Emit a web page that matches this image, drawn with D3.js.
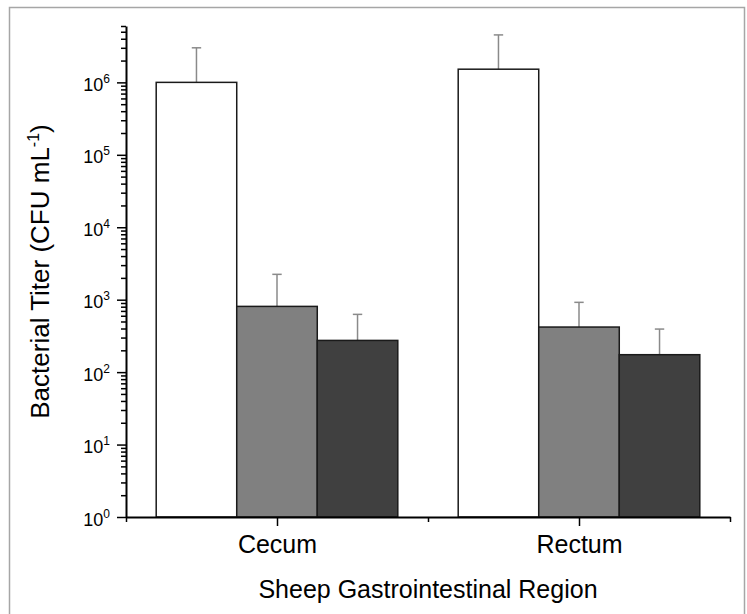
<!DOCTYPE html>
<html>
<head>
<meta charset="utf-8">
<script src="https://cdn.jsdelivr.net/npm/d3@7"></script>
<style>
  body { margin: 0; background: #fff; }
  svg { display: block; font-family: "Liberation Sans", Arial, sans-serif; }
</style>
</head>
<body>
<svg id="chart"></svg>
<script>
// Data
const regions = ["Cecum", "Rectum"];
const regionPos = [1, 2];
const whiteMeans = [1.0e6, 1.52e6];
const whiteErrs = [2.0e6, 3.0e6];
const grayMeans = [808, 419];
const grayErrs = [1430, 500];
const darkMeans = [274, 174];
const darkErrs = [353, 219];
const majorTicks = [1, 10, 100, 1000, 1e4, 1e5, 1e6];
const exponents = [0, 1, 2, 3, 4, 5, 6];

const W = 747, H = 614;
const svg = d3.select("#chart").attr("width", W).attr("height", H);

// outer frame
svg.append("rect")
    .attr("x", 9.5).attr("y", 7.5)
    .attr("width", 735).attr("height", 620)
    .attr("fill", "none")
    .attr("stroke", "#a6a6a6")
    .attr("stroke-width", 1.5);

// Scales
const x = d3.scaleLinear().domain([0.5, 2.5]).range([126, 730]);
const y = d3.scaleLog().domain([1, 6e6]).range([517, 26]);

const barW = 0.8 / 3;
const series = [
    { means: whiteMeans, errs: whiteErrs, fill: "#ffffff", offset: -barW },
    { means: grayMeans, errs: grayErrs, fill: "#808080", offset: 0 },
    { means: darkMeans, errs: darkErrs, fill: "#404040", offset: barW }
];

// Bars and error bars
series.forEach(s => {
    const g = svg.append("g");
    regionPos.forEach((p, i) => {
        const cx = p + s.offset;
        const x0 = x(cx - barW / 2), x1 = x(cx + barW / 2);
        const top = y(s.means[i] + s.errs[i]);

        // error bar (upper only)
        g.append("line")
            .attr("x1", x(cx)).attr("x2", x(cx))
            .attr("y1", y(s.means[i])).attr("y2", top)
            .attr("stroke", "#8a8a8a").attr("stroke-width", 1.5);
        g.append("line")
            .attr("x1", x(cx) - 4.7).attr("x2", x(cx) + 4.7)
            .attr("y1", top).attr("y2", top)
            .attr("stroke", "#8a8a8a").attr("stroke-width", 1.5);

        g.append("rect")
            .attr("x", x0)
            .attr("y", y(s.means[i]))
            .attr("width", x1 - x0)
            .attr("height", y(1) - y(s.means[i]))
            .attr("fill", s.fill)
            .attr("stroke", "#1a1a1a")
            .attr("stroke-width", 1.5);
    });
});

// Y axis: minor ticks
const minorTicks = [];
for (let e = 0; e <= 6; e++) {
    for (let m = 2; m <= 9; m++) {
        const v = m * Math.pow(10, e);
        if (v <= 6e6) minorTicks.push(v);
    }
}
svg.append("g")
    .attr("transform", "translate(126,0)")
    .call(d3.axisLeft(y).tickValues(minorTicks).tickSize(5).tickFormat(""))
    .call(g => g.select(".domain").remove())
    .call(g => g.selectAll(".tick line").attr("stroke", "#000").attr("stroke-width", 1.5));

// Y axis: major ticks with 10^n labels
const yAxis = svg.append("g")
    .attr("transform", "translate(126,0)")
    .call(d3.axisLeft(y).tickValues(majorTicks).tickSize(9).tickSizeOuter(0).tickFormat(""));
yAxis.select(".domain").attr("stroke", "#000").attr("stroke-width", 2);
yAxis.selectAll(".tick line").attr("stroke", "#000").attr("stroke-width", 1.5);
yAxis.selectAll(".tick").each(function (d, i) {
    const t = d3.select(this).append("text")
        .attr("x", -16)
        .attr("y", 8)
        .attr("text-anchor", "end")
        .attr("fill", "#000")
        .style("font-size", "18px");
    t.append("tspan").text("10");
    t.append("tspan")
        .attr("dy", -8)
        .style("font-size", "12px")
        .text(exponents[i]);
});

// X axis: minor ticks between groups
svg.append("g")
    .attr("transform", "translate(0,517)")
    .call(d3.axisBottom(x).tickValues([0.5, 1.5, 2.5]).tickSize(5).tickFormat(""))
    .call(g => g.select(".domain").remove())
    .call(g => g.selectAll(".tick line").attr("stroke", "#000").attr("stroke-width", 1.5));

const xAxis = svg.append("g")
    .attr("transform", "translate(0,517)")
    .call(d3.axisBottom(x).tickValues(regionPos).tickSize(9).tickSizeOuter(0)
        .tickFormat((d, i) => regions[i]));
xAxis.select(".domain").attr("stroke", "#000").attr("stroke-width", 2);
xAxis.selectAll(".tick line").attr("stroke", "#000").attr("stroke-width", 1.5);
xAxis.selectAll(".tick text")
    .attr("y", 36)
    .attr("dy", 0)
    .attr("fill", "#000")
    .style("font-size", "25px");

// Axis titles
svg.append("text")
    .attr("x", x(1.5))
    .attr("y", 598)
    .attr("text-anchor", "middle")
    .style("font-size", "25px")
    .text("Sheep Gastrointestinal Region");

const yTitle = svg.append("text")
    .attr("transform", `translate(49,${(26 + 517) / 2}) rotate(-90)`)
    .attr("text-anchor", "middle")
    .style("font-size", "26px");
yTitle.append("tspan").text("Bacterial Titer (CFU mL");
yTitle.append("tspan").attr("dy", -10).style("font-size", "16px").text("-1");
yTitle.append("tspan").attr("dy", 10).text(")");
</script>
</body>
</html>
